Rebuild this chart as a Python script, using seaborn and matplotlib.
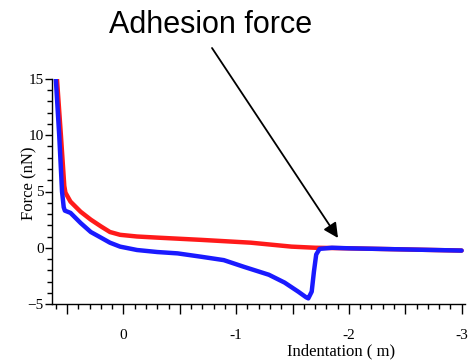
import matplotlib
matplotlib.use("Agg")
import matplotlib.pyplot as plt
import seaborn as sns
import pandas as pd
from matplotlib.ticker import MultipleLocator, FuncFormatter

# Approach curve (red)
red_x = [0.59, 0.555, 0.525, 0.515, 0.47, 0.38, 0.29, 0.20, 0.12, 0.03, -0.12,
         -0.30, -0.69, -1.13, -1.49, -1.70, -2.0, -2.5, -3.0]
red_y = [15, 10, 5.5, 4.9, 4.1, 3.2, 2.5, 1.9, 1.4, 1.15, 1.0,
         0.9, 0.7, 0.45, 0.1, 0.0, -0.05, -0.15, -0.25]

# Retraction curve (blue)
blue_x = [0.60, 0.57, 0.545, 0.53, 0.52, 0.47, 0.38, 0.29, 0.20, 0.12, 0.03,
          -0.12, -0.30, -0.48, -0.69, -0.89, -1.07, -1.29, -1.43, -1.55, -1.62,
          -1.64, -1.67, -1.69, -1.71, -1.74, -1.85, -2.0, -2.5, -3.0]
blue_y = [15, 10, 5, 3.6, 3.3, 3.1, 2.2, 1.4, 0.9, 0.45, 0.1,
          -0.2, -0.38, -0.5, -0.8, -1.1, -1.7, -2.4, -3.1, -3.9, -4.4,
          -4.5, -3.9, -2.1, -0.6, -0.1, 0.0, -0.05, -0.15, -0.25]

x_ticks = [0, -1, -2, -3]
y_ticks = [15, 10, 5, 0, -5]

sns.set_style("ticks")
plt.rcParams['font.family'] = ['Liberation Serif', 'DejaVu Serif']
plt.rcParams['text.color'] = 'black'
plt.rcParams['axes.labelcolor'] = 'black'
plt.rcParams['xtick.color'] = 'black'
plt.rcParams['ytick.color'] = 'black'
plt.rcParams['axes.edgecolor'] = 'black'

fig = plt.figure(figsize=(4.7, 3.61), dpi=100)
ax = fig.add_axes([52/470, 57/361, (465-52)/470, (304-79)/361])

df_r = pd.DataFrame({"x": red_x, "y": red_y})
df_b = pd.DataFrame({"x": blue_x, "y": blue_y})
sns.lineplot(data=df_r, x="x", y="y", ax=ax, color="#ff1a1a", lw=3.2,
             sort=False, estimator=None)
sns.lineplot(data=df_b, x="x", y="y", ax=ax, color="#1a1aff", lw=3.2,
             sort=False, estimator=None)

ax.set_xlim(0.634, -3.03)
ax.set_ylim(-5, 15)
sns.despine(ax=ax)
ax.spines['left'].set_linewidth(1.0)
ax.spines['bottom'].set_linewidth(1.0)

ax.xaxis.set_major_locator(MultipleLocator(0.5))
ax.xaxis.set_minor_locator(MultipleLocator(0.1))
ax.xaxis.set_major_formatter(FuncFormatter(
    lambda v, p: ("%d" % round(v)) if abs(v - round(v)) < 1e-6 and round(v) in x_ticks else ""))
ax.set_yticks(y_ticks)
ax.yaxis.set_minor_locator(MultipleLocator(1))
ax.tick_params(axis='both', which='major', direction='out', length=7, width=1,
               labelsize=11, pad=11)
ax.tick_params(axis='y', which='major', length=5, pad=1)
ax.tick_params(axis='both', which='minor', direction='out', length=3.5, width=1)

ax.set_ylabel("Force (nN)", fontsize=12)
ax.yaxis.set_label_coords((37-52)/413, (304-183)/225)
ax.set_xlabel("Indentation ( m)", fontsize=12, va='center')
ax.xaxis.set_label_coords((341-52)/413, -(351-304)/225)

fig.text(211/470, 1-25/361, "Adhesion force", fontsize=22, color='black',
         family=['Liberation Sans', 'DejaVu Sans'], ha='center', va='center')
ax.annotate("", xy=(338/470, 1-238/361), xycoords='figure fraction',
            xytext=(212/470, 1-48/361), textcoords='figure fraction',
            arrowprops=dict(arrowstyle='-|>', mutation_scale=22, lw=1.3,
                            color='black', shrinkA=0, shrinkB=0))

fig.savefig("out.png", dpi=100)
